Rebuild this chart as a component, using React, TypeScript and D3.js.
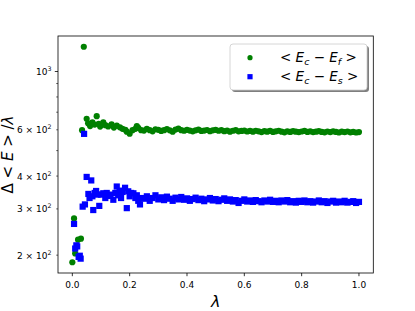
import React from "react";
import * as d3 from "d3";

// lambda values and the two averaged energy gaps
const lambdaF = [
  0.0, 0.006, 0.01, 0.02, 0.03, 0.034, 0.04, 0.05, 0.055, 0.062, 0.07, 0.078,
  0.085, 0.092, 0.097, 0.108, 0.115, 0.125, 0.137, 0.145, 0.155, 0.166, 0.175,
  0.185, 0.19, 0.2, 0.21, 0.22, 0.225, 0.23, 0.24,
  0.25, 0.26, 0.27, 0.28, 0.29, 0.3, 0.31, 0.32, 0.33, 0.34, 0.35, 0.36, 0.37,
  0.38, 0.39, 0.4, 0.41, 0.42, 0.43, 0.44, 0.45, 0.46, 0.47, 0.48, 0.49, 0.5,
  0.51, 0.52, 0.53, 0.54, 0.55, 0.56, 0.57, 0.58, 0.59, 0.6, 0.61, 0.62, 0.63,
  0.64, 0.65, 0.66, 0.67, 0.68, 0.69, 0.7, 0.71, 0.72, 0.73, 0.74, 0.75, 0.76,
  0.77, 0.78, 0.79, 0.8, 0.81, 0.82, 0.83, 0.84, 0.85, 0.86, 0.87, 0.88, 0.89,
  0.9, 0.91, 0.92, 0.93, 0.94, 0.95, 0.96, 0.97, 0.98, 0.99, 1.0,
];
const valuesF = [
  188, 276, 203, 229, 231, 598, 1242, 661, 635, 620, 640, 628,
  676, 632, 617, 640, 625, 618, 630, 612, 622, 613, 605,
  600, 590, 580, 598, 605, 620, 610, 598,
  596, 605, 598, 592, 603, 600, 594, 598, 604, 597, 590, 601, 606,
  598, 595, 600, 596, 592, 597, 601, 594, 596, 599, 593, 597, 600,
  595, 598, 593, 596, 590, 595, 598, 592, 594, 596, 591, 594, 590,
  595, 592, 588, 593, 590, 594, 589, 592, 595, 590, 587, 592, 589,
  593, 590, 588, 591, 594, 589, 592, 588, 590, 593, 589, 587, 591,
  588, 592, 589, 586, 590, 588, 591, 587, 589, 586, 588,
];
const lambdaS = [
  0.006, 0.01, 0.014, 0.017, 0.022, 0.026, 0.029, 0.036, 0.041, 0.044, 0.05,
  0.056, 0.06, 0.066, 0.07, 0.073, 0.078, 0.083, 0.088, 0.094, 0.1, 0.108,
  0.115, 0.12, 0.126, 0.133, 0.143, 0.15, 0.155, 0.16, 0.165, 0.17, 0.175,
  0.184, 0.19, 0.195, 0.2, 0.205, 0.213, 0.22, 0.225, 0.23, 0.236, 0.24,
  0.25, 0.26, 0.27, 0.28, 0.29, 0.3, 0.31, 0.32, 0.33, 0.34, 0.35, 0.36, 0.37,
  0.38, 0.39, 0.4, 0.41, 0.42, 0.43, 0.44, 0.45, 0.46, 0.47, 0.48, 0.49, 0.5,
  0.51, 0.52, 0.53, 0.54, 0.55, 0.56, 0.57, 0.58, 0.59, 0.6, 0.61, 0.62, 0.63,
  0.64, 0.65, 0.66, 0.67, 0.68, 0.69, 0.7, 0.71, 0.72, 0.73, 0.74, 0.75, 0.76,
  0.77, 0.78, 0.79, 0.8, 0.81, 0.82, 0.83, 0.84, 0.85, 0.86, 0.87, 0.88, 0.89,
  0.9, 0.91, 0.92, 0.93, 0.94, 0.95, 0.96, 0.97, 0.98, 0.99, 1.0,
];
const valuesS = [
  263, 212, 218, 216, 197, 199, 194, 306, 579, 312, 397,
  342, 330, 385, 335, 297, 345, 351, 340, 308, 340, 344,
  330, 345, 336, 340, 325, 345, 365, 338, 352, 330, 348,
  361, 302, 350, 335, 345, 344, 330, 338, 322, 312, 330,
  328, 335, 322, 330, 338, 326, 332, 324, 334, 328, 322, 331, 326,
  333, 325, 329, 322, 327, 331, 324, 328, 321, 326, 330, 323, 327,
  321, 325, 329, 322, 326, 320, 324, 316, 322, 326, 320, 323, 319,
  324, 321, 318, 323, 320, 325, 319, 322, 318, 323, 320, 324, 318,
  321, 317, 322, 319, 323, 318, 321, 317, 320, 323, 318, 321, 316,
  320, 322, 317, 320, 318, 322, 317, 319, 321, 316, 319,
];

const xTicks = [0, 0.2, 0.4, 0.6, 0.8, 1.0];
const yMajorTicks = [1000];
const yMinorTicks = [200, 300, 400, 500, 600, 700, 800, 900];
const yMinorLabels = [200, 300, 400, 600];

const W = 415;
const H = 311;
const left = 58;
const right = 373.3;
const top = 36;
const bottom = 273;
const font = "DejaVu Sans, sans-serif";

export default function App() {
  const xAll = [...lambdaF, ...lambdaS];
  const yAll = [...valuesF, ...valuesS];
  const [x0, x1] = d3.extent(xAll) as [number, number];
  const xPad = (x1 - x0) * 0.05;
  const x = d3.scaleLinear().domain([x0 - xPad, x1 + xPad]).range([left, right]);

  const [y0, y1] = d3.extent(yAll) as [number, number];
  const lPad = (Math.log10(y1) - Math.log10(y0)) * 0.05;
  const y = d3
    .scaleLog()
    .domain([Math.pow(10, Math.log10(y0) - lPad), Math.pow(10, Math.log10(y1) + lPad)])
    .range([bottom, top]);

  const ms = 6.2;

  return (
    <svg
      width={W}
      height={H}
      style={{ position: "absolute", left: 0, top: 0, fontFamily: font }}
    >
      <rect x={0} y={0} width={W} height={H} fill="#fff" />

      <g>
        {lambdaF.map((l, i) => (
          <circle key={"f" + i} cx={x(l)} cy={y(valuesF[i])} r={ms / 2} fill="#008000" />
        ))}
        {lambdaS.map((l, i) => (
          <rect
            key={"s" + i}
            x={x(l) - ms / 2}
            y={y(valuesS[i]) - ms / 2}
            width={ms}
            height={ms}
            fill="#0000ff"
          />
        ))}
      </g>

      <rect
        x={left}
        y={top}
        width={right - left}
        height={bottom - top}
        fill="none"
        stroke="#000"
        strokeWidth={0.8}
      />

      {/* x axis */}
      {xTicks.map((t) => (
        <g key={"xt" + t} transform={`translate(${x(t)},${bottom})`}>
          <line y2={3.2} stroke="#000" strokeWidth={0.8} />
          <text y={15} textAnchor="middle" fontSize={9} fill="#000">
            {t.toFixed(1)}
          </text>
        </g>
      ))}
      <text
        x={(left + right) / 2}
        y={307}
        textAnchor="middle"
        fontSize={16}
        fontStyle="italic"
        fill="#000"
      >
        λ
      </text>

      {/* y axis */}
      {yMajorTicks.map((t) => (
        <g key={"ym" + t} transform={`translate(${left},${y(t)})`}>
          <line x2={-3.2} stroke="#000" strokeWidth={0.8} />
          <text x={-6.5} y={3.5} textAnchor="end" fontSize={9} fill="#000">
            10
            <tspan fontSize={6.3} dy={-4}>
              {Math.round(Math.log10(t))}
            </tspan>
          </text>
        </g>
      ))}
      {yMinorTicks.map((t) => (
        <g key={"yn" + t} transform={`translate(${left},${y(t)})`}>
          <line x2={-1.8} stroke="#000" strokeWidth={0.6} />
          {yMinorLabels.includes(t) && (
            <text x={-6.5} y={3.5} textAnchor="end" fontSize={9} fill="#000">
              {`${t / 100} × 10`}
              <tspan fontSize={6.3} dy={-4}>
                2
              </tspan>
            </text>
          )}
        </g>
      ))}
      <text
        transform={`translate(13,${(top + bottom) / 2}) rotate(-90)`}
        textAnchor="middle"
        fontSize={15}
        fill="#000"
      >
        {"Δ < "}
        <tspan fontStyle="italic">E</tspan>
        {" > /"}
        <tspan fontStyle="italic">λ</tspan>
      </text>

      {/* legend */}
      <rect x={232} y={46} width={137} height={46} rx={3} fill="#000" opacity={0.5} />
      <rect
        x={230}
        y={44}
        width={137}
        height={46}
        rx={3}
        fill="#fff"
        stroke="#cccccc"
        strokeWidth={0.8}
      />
      <circle cx={250} cy={57.7} r={2.6} fill="#008000" />
      <rect x={247.4} y={74.1} width={5.2} height={5.2} fill="#0000ff" />
      <text x={280} y={62} fontSize={13.5} fill="#000">
        {"< "}
        <tspan fontStyle="italic">E</tspan>
        <tspan fontStyle="italic" fontSize={9.5} dy={3}>c</tspan>
        <tspan dy={-3}>{" − "}</tspan>
        <tspan fontStyle="italic">E</tspan>
        <tspan fontStyle="italic" fontSize={9.5} dy={3}>f</tspan>
        <tspan dy={-3}>{" >"}</tspan>
      </text>
      <text x={280} y={81} fontSize={13.5} fill="#000">
        {"< "}
        <tspan fontStyle="italic">E</tspan>
        <tspan fontStyle="italic" fontSize={9.5} dy={3}>c</tspan>
        <tspan dy={-3}>{" − "}</tspan>
        <tspan fontStyle="italic">E</tspan>
        <tspan fontStyle="italic" fontSize={9.5} dy={3}>s</tspan>
        <tspan dy={-3}>{" >"}</tspan>
      </text>
    </svg>
  );
}
